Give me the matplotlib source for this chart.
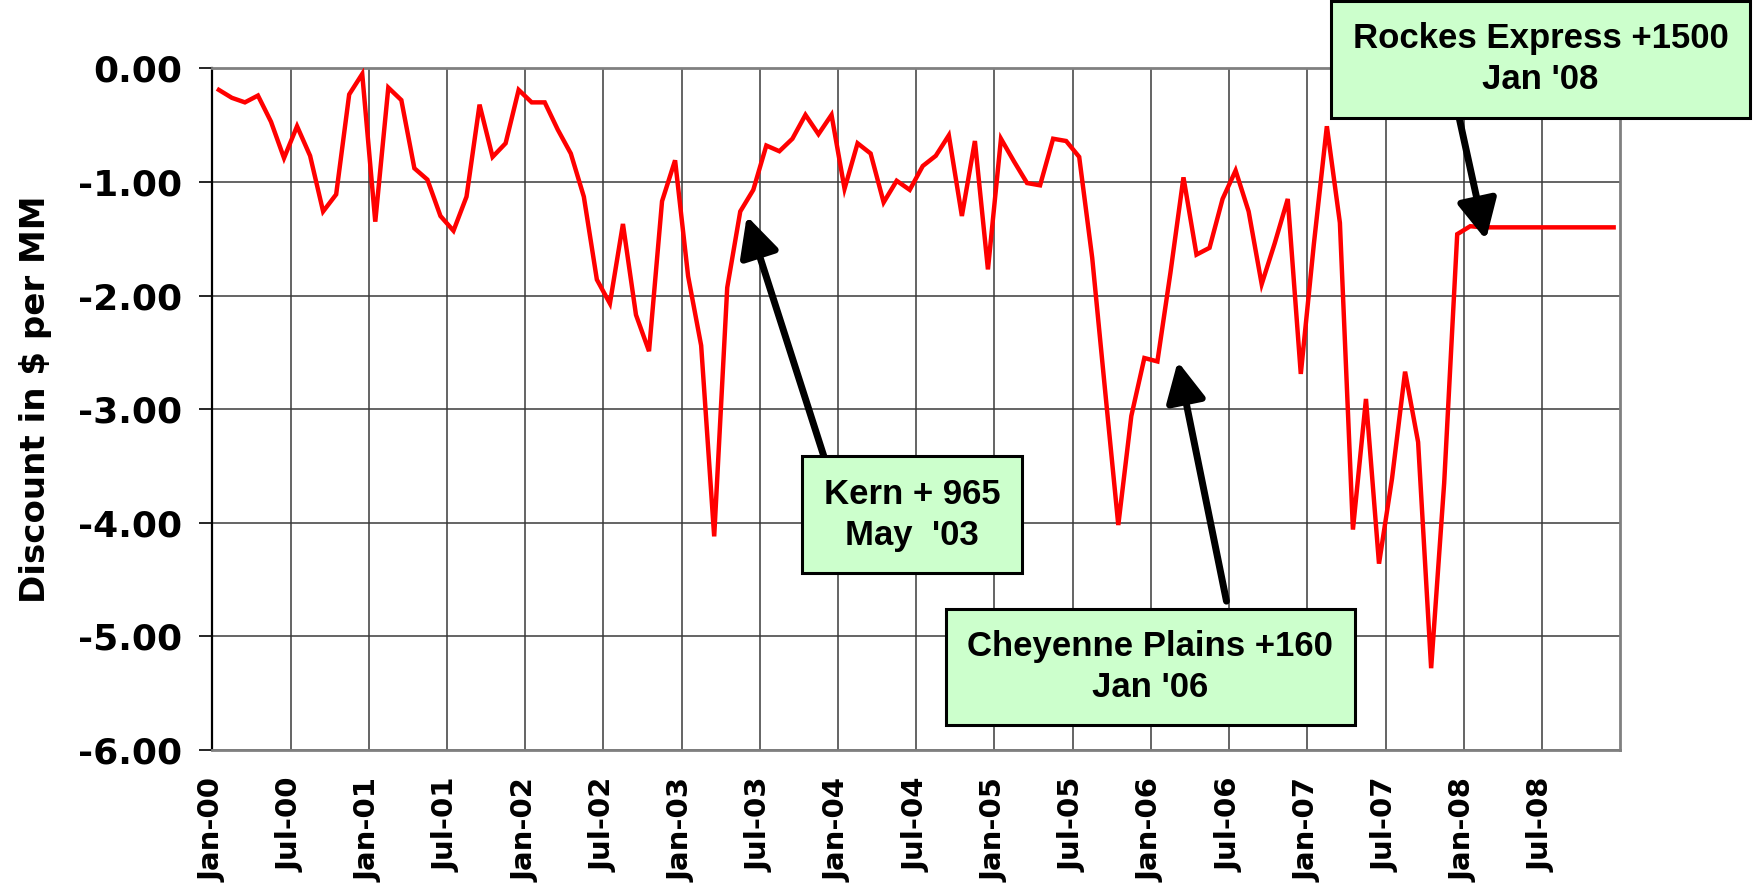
"""Monthly basis discount with pipeline in-service annotations."""

import matplotlib

matplotlib.use("Agg")
import matplotlib.pyplot as plt  # noqa: E402
import numpy as np  # noqa: E402

# monthly discount, Jan-00 .. Dec-08 ($ per MM)
discount = [
    -0.19, -0.26, -0.30, -0.24, -0.47, -0.79, -0.51, -0.77, -1.26, -1.11, -0.23, -0.05,  # 2000
    -1.35, -0.17, -0.28, -0.88, -0.98, -1.30, -1.43, -1.13, -0.32, -0.78, -0.66, -0.19,  # 2001
    -0.30, -0.30, -0.54, -0.75, -1.13, -1.86, -2.07, -1.37, -2.17, -2.49, -1.17, -0.81,  # 2002
    -1.83, -2.44, -4.12, -1.93, -1.26, -1.07, -0.68, -0.73, -0.62, -0.41, -0.58, -0.41,  # 2003
    -1.06, -0.66, -0.75, -1.18, -0.99, -1.07, -0.86, -0.77, -0.59, -1.30, -0.64, -1.77,  # 2004
    -0.62, -0.82, -1.01, -1.03, -0.62, -0.64, -0.78, -1.67, -2.85, -4.02, -3.06, -2.55,  # 2005
    -2.58, -1.80, -0.96, -1.64, -1.58, -1.15, -0.90, -1.26, -1.90, -1.54, -1.15, -2.69,  # 2006
    -1.55, -0.51, -1.36, -4.06, -2.91, -4.36, -3.61, -2.67, -3.29, -5.28, -3.65, -1.46,  # 2007
    -1.39, -1.40, -1.40, -1.40, -1.40, -1.40, -1.40, -1.40, -1.40, -1.40, -1.40, -1.40,  # 2008
]

tick_labels = [
    "Jan-00", "Jul-00", "Jan-01", "Jul-01", "Jan-02", "Jul-02", "Jan-03", "Jul-03", "Jan-04",
    "Jul-04", "Jan-05", "Jul-05", "Jan-06", "Jul-06", "Jan-07", "Jul-07", "Jan-08", "Jul-08",
]
y_ticks = [0, -1, -2, -3, -4, -5, -6]

# (text, text centre (month, value), arrow tip (month, value), arrow start (month, value))
notes = [
    ("Kern + 965\nMay  '03", (53.7, -3.93), (41.0, -1.30), (46.9, -3.41)),
    ("Cheyenne Plains +160\nJan '06", (71.95, -5.27), (74.06, -2.58), (77.8, -4.69)),
    ("Rockes Express +1500\nJan '08", (101.9, 0.08), (97.7, -1.51), (95.6, -0.41)),
]

axis_font = "DejaVu Sans"
box_font = ["Liberation Sans", "Arial", "DejaVu Sans"]

fig = plt.figure(figsize=(17.62, 8.88), dpi=100)
ax = fig.add_axes([0.1205, 0.1554, 0.799, 0.7677])

n = len(discount)
x = np.arange(n) + 0.5  # points sit mid-month
ax.plot(x, discount, color="#ff0000", linewidth=3.2, solid_joinstyle="miter", zorder=3)

ax.set_xlim(0, 108)
ax.set_ylim(-6, 0)
ax.set_xticks(np.arange(len(tick_labels)) * 6)
ax.set_xticklabels(tick_labels, rotation=90, fontsize=21, fontweight="bold",
                   family=axis_font, va="top")
ax.set_yticks(y_ticks)
ax.set_yticklabels([f"{v:.2f}" for v in y_ticks], fontsize=26, fontweight="bold",
                   family=axis_font)
ax.tick_params(axis="x", length=0, pad=20)
ax.tick_params(axis="y", length=9.4, width=1.2, pad=12.5, color="black")

ax.grid(True, color="#3a3a3a", linewidth=1.1, zorder=1)
ax.set_axisbelow(True)
for side in ("top", "right", "bottom"):
    ax.spines[side].set_color("#808080")
    ax.spines[side].set_linewidth(2)
ax.spines["left"].set_color("black")
ax.spines["left"].set_linewidth(1.6)

ax.set_ylabel("Discount in $ per MM", fontsize=24.5, fontweight="bold", family=axis_font)
ax.yaxis.set_label_coords(-0.114, 0.515)

for text, centre, tip, start in notes:
    ax.annotate("", xy=tip, xytext=start, annotation_clip=False,
                arrowprops=dict(arrowstyle="-|>,head_length=1.0,head_width=0.5",
                                color="black", lw=5, mutation_scale=24,
                                shrinkA=0, shrinkB=0), zorder=4)
    ax.text(centre[0], centre[1], text, ha="center", va="center", fontsize=25,
            fontweight="bold", family=box_font, linespacing=1.3, clip_on=False, zorder=5,
            bbox=dict(boxstyle="square,pad=0.62", facecolor="#ccffcc",
                      edgecolor="black", linewidth=2.2))

fig.savefig("out.png", dpi=100)
